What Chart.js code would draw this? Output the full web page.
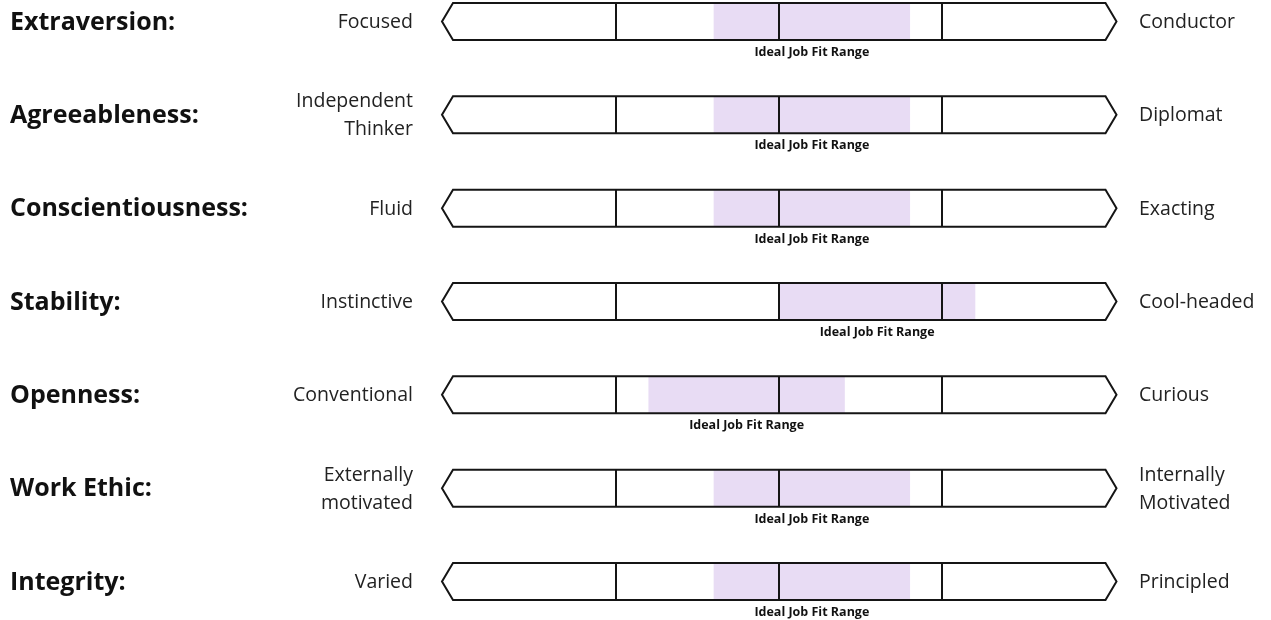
<!DOCTYPE html>
<html>
<head>
<meta charset="utf-8">
<script src="https://cdn.jsdelivr.net/npm/chart.js@4/dist/chart.umd.min.js"></script>
<style>
  html, body { margin: 0; padding: 0; background: #fff; }
  #wrap { width: 1271px; height: 620px; }
</style>
</head>
<body>
<div id="wrap"><canvas id="fitChart" width="1271" height="620"></canvas></div>
<script>
// traits and scale-end labels
const traits = ['Extraversion:', 'Agreeableness:', 'Conscientiousness:', 'Stability:', 'Openness:', 'Work Ethic:', 'Integrity:'];
const lowLabels = ['Focused', ['Independent', 'Thinker'], 'Fluid', 'Instinctive', 'Conventional', ['Externally', 'motivated'], 'Varied'];
const highLabels = ['Conductor', 'Diplomat', 'Exacting', 'Cool-headed', 'Curious', ['Internally', 'Motivated'], 'Principled'];

// ideal job fit range per trait (scale 0-100)
const rangeLow = [40, 40, 40, 50, 30, 40, 40];
const rangeHigh = [70, 70, 70, 80, 60, 70, 70];
const dividers = [25, 50, 75];
const scaleMin = 0;
const scaleMax = 100;

const rangeLabel = 'Ideal Job Fit Range';
const BAR_H = 37;
const TIP = 11;

const scaleBars = {
    id: 'scaleBars',
    beforeDatasetsDraw(chart) {
        const ctx = chart.ctx;
        const xs = chart.scales.x, ys = chart.scales.y;
        ctx.save();
        ctx.fillStyle = '#ffffff';
        traits.forEach(function (t, i) {
            chevron(ctx, xs.getPixelForValue(scaleMin), xs.getPixelForValue(scaleMax), ys.getPixelForValue(i));
            ctx.fill();
        });
        ctx.restore();
    },
    afterDatasetsDraw(chart) {
        const ctx = chart.ctx;
        const xs = chart.scales.x, ys = chart.scales.y;
        ctx.save();
        ctx.strokeStyle = '#151515';
        ctx.lineWidth = 2;
        ctx.lineJoin = 'miter';
        traits.forEach(function (t, i) {
            const yc = ys.getPixelForValue(i);
            const x0 = xs.getPixelForValue(scaleMin), x1 = xs.getPixelForValue(scaleMax);
            chevron(ctx, x0, x1, yc);
            ctx.stroke();
            dividers.forEach(function (d) {
                const x = Math.round(xs.getPixelForValue(d));
                ctx.beginPath();
                ctx.moveTo(x, yc - BAR_H / 2);
                ctx.lineTo(x, yc + BAR_H / 2);
                ctx.stroke();
            });

            // trait name
            ctx.fillStyle = '#111';
            ctx.textBaseline = 'middle';
            ctx.textAlign = 'left';
            ctx.font = 'bold 25px "Open Sans"';
            ctx.fillText(t, 10, yc + 1);

            // end labels
            ctx.font = '19.5px "Open Sans"';
            ctx.fillStyle = '#222';
            ctx.textAlign = 'right';
            drawLines(ctx, lowLabels[i], 413, yc + 1);
            ctx.textAlign = 'left';
            drawLines(ctx, highLabels[i], 1139, yc + 1);

            // range caption
            ctx.font = 'bold 12.5px "Open Sans"';
            ctx.fillStyle = '#111';
            ctx.textAlign = 'center';
            const mid = xs.getPixelForValue((rangeLow[i] + rangeHigh[i]) / 2);
            ctx.fillText(rangeLabel, mid, yc + BAR_H / 2 + 12.5);
        });
        ctx.restore();
    }
};

function chevron(ctx, x0, x1, yc) {
    const top = yc - BAR_H / 2, bot = yc + BAR_H / 2;
    ctx.beginPath();
    ctx.moveTo(x0, top);
    ctx.lineTo(x0 - TIP, yc);
    ctx.lineTo(x0, bot);
    ctx.lineTo(x1, bot);
    ctx.lineTo(x1 + TIP, yc);
    ctx.lineTo(x1, top);
    ctx.closePath();
}

function drawLines(ctx, label, x, yc) {
    const lines = Array.isArray(label) ? label : [label];
    const lh = 28;
    const start = yc - (lines.length - 1) * lh / 2;
    lines.forEach(function (l, k) {
        ctx.fillText(l, x, start + k * lh);
    });
}

new Chart(document.getElementById('fitChart'), {
    type: 'bar',
    data: {
        labels: traits,
        datasets: [{
            label: rangeLabel,
            data: rangeLow.map(function (v, i) { return [v, rangeHigh[i]]; }),
            backgroundColor: '#e8dcf4',
            borderWidth: 0,
            barThickness: BAR_H,
            clip: false
        }]
    },
    options: {
        indexAxis: 'y',
        responsive: false,
        animation: false,
        layout: { padding: { left: 453, right: 165.5, top: 21.5, bottom: 38.5 } },
        scales: {
            x: { min: scaleMin, max: scaleMax, display: false },
            y: { offset: false, display: false }
        },
        plugins: { legend: { display: false }, tooltip: { enabled: false } }
    },
    plugins: [scaleBars]
});
</script>
</body>
</html>
